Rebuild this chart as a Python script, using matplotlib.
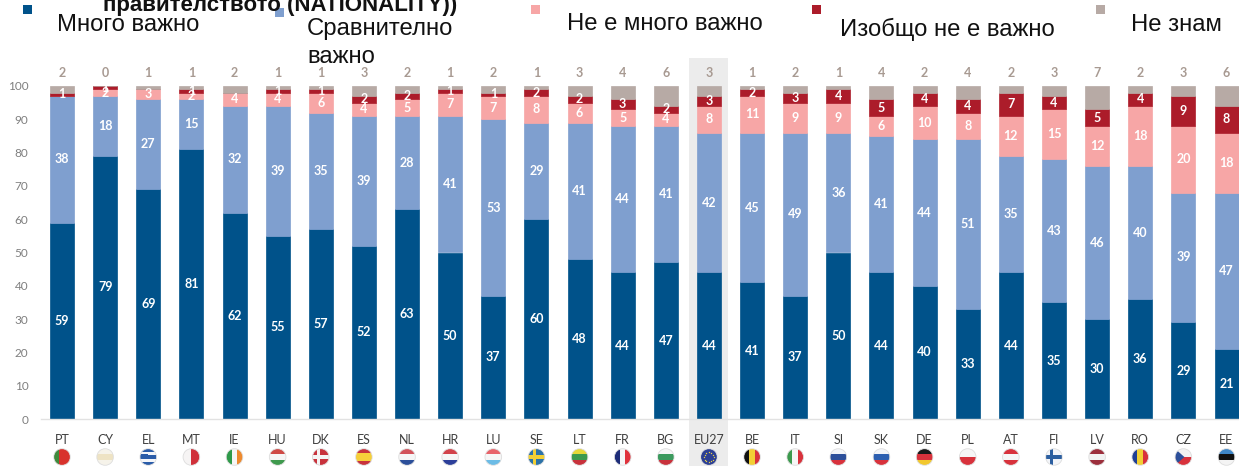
import math
import matplotlib
matplotlib.use("Agg")
import matplotlib.pyplot as plt
from matplotlib.patches import Circle, Rectangle, Polygon

W, H = 1239, 466
countries = ["PT","CY","EL","MT","IE","HU","DK","ES","NL","HR","LU","SE","LT","FR","BG","EU27",
             "BE","IT","SI","SK","DE","PL","AT","FI","LV","RO","CZ","EE"]
very = [59,79,69,81,62,55,57,52,63,50,37,60,48,44,47,44,41,37,50,44,40,33,44,35,30,36,29,21]
fairly = [38,18,27,15,32,39,35,39,28,41,53,29,41,44,41,42,45,49,36,41,44,51,35,43,46,40,39,47]
not_very = [0,2,3,2,4,4,6,4,5,7,7,8,6,5,4,8,11,9,9,6,10,8,12,15,12,18,20,18]
not_at_all = [1,1,0,1,0,1,1,2,2,1,1,2,2,3,2,3,2,3,4,5,4,4,7,4,5,4,9,8]
dont_know = [2,0,1,1,2,1,1,3,2,1,2,1,3,4,6,3,1,2,1,4,2,4,2,3,7,2,3,6]
series = [very, fairly, not_very, not_at_all, dont_know]
colors = ["#00528a", "#7f9fcf", "#f7a6a6", "#ac1c2a", "#b7aaa5"]
legend_labels = ["Много важно", "Сравнително\nважно", "Не е много важно", "Изобщо не е важно", "Не знам"]
title_text = "правителството (NATIONALITY))"

flags = {
 "PT":("v",["#3f8a3c","#d8322c","#d8322c"]),"CY":("h",["#f6f3ea","#eee3c4","#f6f3ea"]),
 "EL":("h",["#2a5ca8","#f4f6fa","#2a5ca8","#f4f6fa","#2a5ca8"]),"MT":("v",["#f6f4f4","#d0303a"]),
 "IE":("v",["#2f9a4a","#f6f6f6","#ee8a2e"]),"HU":("h",["#cf4a46","#f6f6f6","#3f9a4e"]),
 "DK":("h",["#c8323c"]),"ES":("h",["#c8323c","#f6cf3a","#f6cf3a","#c8323c"]),
 "NL":("h",["#d2525a","#f6f6f6","#2c4f9a"]),"HR":("h",["#d2424a","#f6f6f6","#2c3f9a"]),
 "LU":("h",["#e8636a","#f6f6f6","#6cbce6"]),"SE":("h",["#2c72a8"]),
 "LT":("h",["#e6d838","#3c9a4e","#c8323c"]),"FR":("v",["#1d2c78","#f6f6f6","#e0323c"]),
 "BG":("h",["#f6f6f6","#3c9a5e","#c8323c"]),"EU27":("h",["#2c3f94"]),
 "BE":("v",["#111111","#f2cf35","#d8323c"]),"IT":("v",["#3c9a4e","#f6f6f6","#d8323c"]),
 "SI":("h",["#f2f4f8","#2c4f9a","#d8323c"]),"SK":("h",["#f2f4f8","#2c5fb0","#d8323c"]),
 "DE":("h",["#1a1a1a","#d8323c","#f2c82e"]),"PL":("h",["#f6f6f6","#d8323c"]),
 "AT":("h",["#d8323c","#f6f6f6","#d8323c"]),"FI":("h",["#f2f4f8"]),
 "LV":("h",["#9c2f3c","#f2f2f2","#9c2f3c"]),"RO":("v",["#1f3f94","#f2cf35","#d8323c"]),
 "CZ":("h",["#f2f2f2","#d8323c"]),"EE":("h",["#3f87c8","#111111","#f4f4f4"]),
}
crosses = {"DK": "#f4f4f4", "SE": "#f2cf35", "FI": "#2c5fa0"}

plt.rcParams["font.family"] = ["Lato", "DejaVu Sans"]
fig = plt.figure(figsize=(W/100, H/100), dpi=100)

ov = fig.add_axes([0, 0, 1, 1], zorder=0)
ov.set_xlim(0, W); ov.set_ylim(H, 0); ov.axis("off")

L, R, T, B = 41, 1239, 86, 419
ax = fig.add_axes([L/W, 1-B/H, (R-L)/W, (B-T)/H], zorder=1)
ax.patch.set_alpha(0)
px_per_cat = (1226.5-62)/27
ax.set_xlim((L-62)/px_per_cat, (R-62)/px_per_cat)
ax.set_ylim(0, 100)

x = list(range(len(countries)))
bottom = [0]*len(x)
bw = 24/px_per_cat
for s_i, (vals, c) in enumerate(zip(series, colors)):
    ax.bar(x, vals, bw, bottom=bottom, color=c, edgecolor=c, linewidth=0.5, zorder=2)
    if s_i < 4:
        for i, v in enumerate(vals):
            if v > 0:
                ax.text(i, bottom[i]+v/2, str(v), ha="center", va="center", color="white",
                        fontsize=9, fontweight="bold", zorder=3, clip_on=False)
    bottom = [b+v for b, v in zip(bottom, vals)]

for i, v in enumerate(dont_know):
    ax.annotate(str(v), (i, 100), xytext=(0, 13), textcoords="offset pixels", ha="center", va="center",
                color="#a89a92", fontsize=9, fontweight="bold", annotation_clip=False)

ax.set_yticks(range(0, 101, 10))
ax.tick_params(axis="y", length=0, labelsize=8.5, labelcolor="#7f7f7f", pad=9)
ax.set_xticks(x)
ax.set_xticklabels(countries)
ax.tick_params(axis="x", length=0, labelsize=9, labelcolor="#404040", pad=11)
for s in ["top", "right", "left"]:
    ax.spines[s].set_visible(False)
ax.spines["bottom"].set_color("#e2e2e2")
ax.spines["bottom"].set_linewidth(1)

xp = 62 + countries.index("EU27")*px_per_cat
ov.add_patch(Rectangle((xp-19.5, 58), 39, H-58, color="#ececec", lw=0, zorder=0))

# Flags
for i, c in enumerate(countries):
    cx = 62 + i*px_per_cat
    cy = 457
    r = 8.3
    orient, st = flags[c]
    clip = Circle((cx, cy), r, transform=ov.transData)
    n = len(st)
    pieces = []
    for k, col in enumerate(st):
        if orient == "h":
            pieces.append(Rectangle((cx-r, cy-r+2*r*k/n), 2*r, 2*r/n, color=col, lw=0, zorder=1))
        else:
            pieces.append(Rectangle((cx-r+2*r*k/n, cy-r), 2*r/n, 2*r, color=col, lw=0, zorder=1))
    if c in crosses:
        col = crosses[c]
        pieces.append(Rectangle((cx-r, cy-1.6), 2*r, 3.2, color=col, lw=0, zorder=1.1))
        pieces.append(Rectangle((cx-3.8, cy-r), 3.2, 2*r, color=col, lw=0, zorder=1.1))
    if c == "CZ":
        pieces.append(Polygon([(cx-r, cy-r), (cx+1, cy), (cx-r, cy+r)], color="#2c4f9a", lw=0, zorder=1.1))
    if c == "EL":
        pieces.append(Rectangle((cx-r, cy-r), r, r, color="#2a5ca8", lw=0, zorder=1.1))
        pieces.append(Rectangle((cx-r, cy-r/2-0.8), r, 1.6, color="#f4f6fa", lw=0, zorder=1.2))
    for p in pieces:
        ov.add_patch(p)
        p.set_clip_path(clip)
    if c == "EU27":
        for a in range(12):
            t = a*math.pi/6
            ov.plot(cx+5*math.cos(t), cy+5*math.sin(t), "o", ms=1, color="#e6cf4a", mew=0, zorder=2)
    ov.add_patch(Circle((cx, cy), r, fill=False, ec="#dddddd", lw=0.6, zorder=2))

# Legend
sq_x = [27, 279, 535, 816, 1100]
sq_y = [9, 12, 9, 9, 9]
txt_x = [57, 307, 567, 840, 1131]
txt_y = [25, 43, 24.5, 29, 25]
for k in range(5):
    ov.add_patch(Rectangle((sq_x[k]-4.5, sq_y[k]-4.5), 9, 9, color=colors[k], lw=0, zorder=1))
    ov.text(txt_x[k], txt_y[k], legend_labels[k], ha="left", va="center", fontsize=17.2,
            family=["Liberation Sans"], color="#111111", linespacing=1.3, zorder=3)
ov.text(280, 5, title_text, ha="center", va="center", fontsize=16, fontweight="bold",
        family=["Liberation Sans"], color="#111111", zorder=3)

fig.savefig("out.png", dpi=100)
